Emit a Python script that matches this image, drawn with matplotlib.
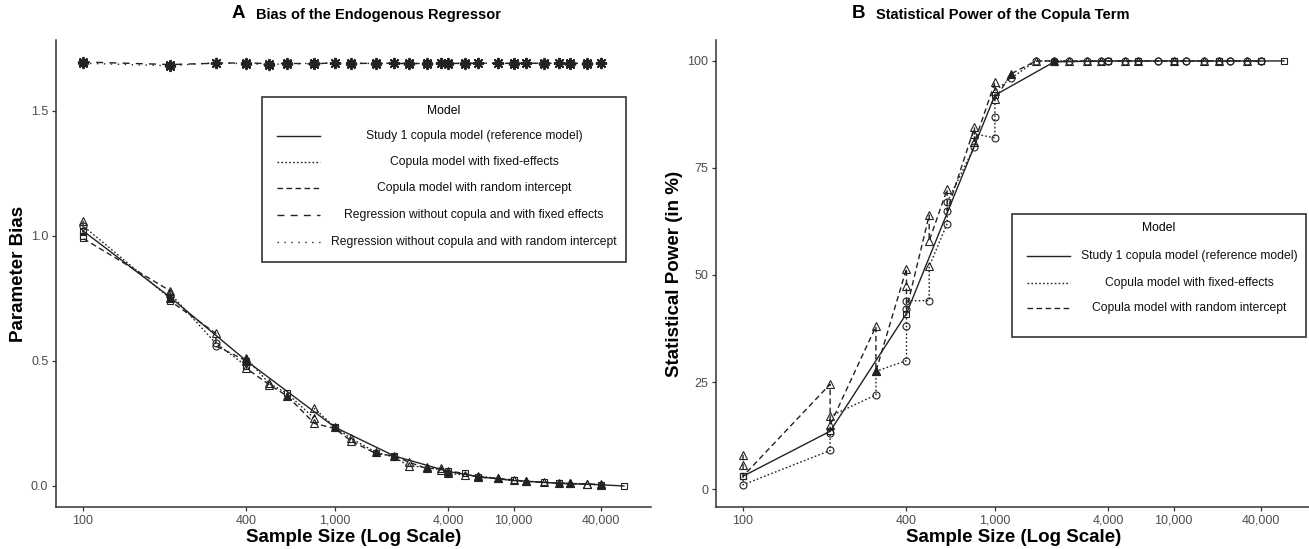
import numpy as np
import matplotlib.pyplot as plt
from matplotlib.lines import Line2D
from matplotlib.patches import Rectangle
from matplotlib.ticker import NullLocator

plt.rcParams['font.family'] = ['Liberation Sans', 'DejaVu Sans']

W, H = 1309, 549

# ---- data -------------------------------------------------------------
xticks = [100, 400, 1000, 4000, 10000, 40000]
xtick_labels = ['100', '400', '1,000', '4,000', '10,000', '40,000']

sizes_reg = [100, 200, 300, 400, 500, 600, 800, 1000, 1200, 1600, 2000, 2400, 3000,
             3600, 4000, 5000, 6000, 8000, 10000, 12000, 16000, 20000, 24000, 32000, 40000]

# panel A: bias of the endogenous regressor
bias_reg_fe = [1.695, 1.685, 1.690, 1.692, 1.688, 1.690, 1.687, 1.693, 1.689, 1.690, 1.690, 1.688,
               1.690, 1.690, 1.689, 1.690, 1.690, 1.690, 1.689, 1.690, 1.690, 1.690, 1.689, 1.690, 1.690]
bias_reg_ri = [1.690, 1.680, 1.692, 1.688, 1.685, 1.688, 1.690, 1.690, 1.691, 1.689, 1.690, 1.690,
               1.689, 1.690, 1.690, 1.689, 1.690, 1.691, 1.690, 1.690, 1.689, 1.690, 1.690, 1.689, 1.690]

sizes_ref = [100, 200, 400, 1000, 2000, 4000, 6000, 10000, 20000, 40000, 60000]
bias_ref = [1.02, 0.755, 0.50, 0.235, 0.12, 0.058, 0.037, 0.022, 0.011, 0.005, 0.0]
marks_ref = ['s'] * len(sizes_ref)

sizes_cfe_a = [100, 100, 200, 200, 300, 400, 400, 500, 600, 800, 800, 1000, 1200, 1600, 2000,
               2400, 3000, 3600, 4000, 5000, 6000, 8000, 10000, 12000, 16000, 20000, 24000,
               32000, 40000]
bias_cfe = [1.00, 1.04, 0.75, 0.77, 0.57, 0.48, 0.51, 0.41, 0.37, 0.27, 0.31, 0.235, 0.19,
            0.135, 0.115, 0.08, 0.075, 0.065, 0.05, 0.045, 0.04, 0.03, 0.022, 0.02, 0.014,
            0.012, 0.01, 0.007, 0.005]
marks_cfe_a = ['s', 'o', 'T', '^', 'o', 's', 'T', '^', 's', '^', '^', 'T', '^', 'T', 's',
               '^', '^', '^', 'T', '^', 'T', 'T', '^', 'T', 's', 'T', '^', '^', 'T']

sizes_cri_a = [100, 100, 200, 200, 300, 300, 400, 400, 500, 600, 800, 1000, 1200, 1600, 2000,
               2400, 3000, 3600, 4000, 5000, 6000, 8000, 10000, 12000, 16000, 20000, 24000,
               32000, 40000]
bias_cri = [1.06, 0.99, 0.78, 0.74, 0.61, 0.56, 0.50, 0.47, 0.405, 0.36, 0.25, 0.23, 0.18,
            0.13, 0.12, 0.095, 0.07, 0.07, 0.06, 0.05, 0.035, 0.03, 0.025, 0.018, 0.015,
            0.01, 0.01, 0.008, 0.006]
marks_cri_a = ['^', 's', '^', 's', '^', 'o', 'T', '^', '^', 'T', '^', 's', '^', 's', 'T',
               '^', 'T', '^', '^', 's', 'T', '^', 's', 'T', '^', 's', 'T', '^', 'T']

# panel B: statistical power of the copula term (in %)
power_ref = [3, 13.5, 41, 92, 99.8, 100, 100, 100, 100, 100, 100]

sizes_cri_b = [100, 100, 100, 200, 200, 300, 300, 400, 400, 400, 500, 500, 600, 600, 800, 800,
               1000, 1000, 1200, 1600, 2000, 2400, 3000, 3600, 4000, 5000, 6000, 8000, 10000,
               12000, 16000, 20000, 24000, 32000, 40000]
power_cri = [8, 5.5, 3, 24.5, 15, 38, 27.5, 51.5, 47.5, 42, 64, 58, 70, 65, 84.5, 81, 95, 91,
             97, 100, 100, 100, 100, 100, 100, 100, 100, 100, 100, 100, 100, 100, 100, 100, 100]
marks_cri_b = ['^', '^', 's', '^', '^', '^', 'T', '^', '^', 'o', '^', '^', '^', 'o', '^', '^',
               '^', '^', 'T', '^', 'T', '^', '^', '^', 'o', '^', '^', 'o', '^', 'o', '^', '^',
               'o', '^', 'o']

sizes_cfe_b = [100, 100, 200, 200, 200, 300, 300, 400, 400, 400, 500, 500, 600, 600, 800, 800,
               1000, 1000, 1000, 1200, 1600, 2000, 2400, 3000, 3600, 4000, 5000, 6000, 8000,
               10000, 12000, 16000, 20000, 24000, 32000, 40000]
power_cfe = [3, 1, 9, 13, 17, 22, 27.5, 30, 38, 44, 44, 52, 62, 67, 80, 83, 82, 87, 93, 96,
             100, 100, 100, 100, 100, 100, 100, 100, 100, 100, 100, 100, 100, 100, 100, 100]
marks_cfe_b = ['s', 'o', 'o', 'o', '^', 'o', '^', 'o', 'o', 'o', 'o', '^', 'o', 'o', 'o', '^',
               'o', 'o', '^', 'o', 'o', 'o', 'o', 'o', 'o', 'o', 'o', 'o', 'o', 'o', 'o', 'o',
               'o', 'o', 'o', 'o']

labels_a = ['Study 1 copula model (reference model)', 'Copula model with fixed-effects',
            'Copula model with random intercept', 'Regression without copula and with fixed effects',
            'Regression without copula and with random intercept']
labels_b = labels_a[:3]

# ---- styles -----------------------------------------------------------
INK = '#222222'
ls_ref = '-'
ls_cfe = (0, (1.2, 1.6))
ls_cri = (0, (4, 2.5))
ls_rfe = (0, (5, 4.5))
ls_rri = (0, (1, 4))

MARKERS = {
    '^': dict(marker='^', mfc='none', ms=5.5),
    'T': dict(marker='^', mfc=INK, ms=5.5),
    'o': dict(marker='o', mfc='none', ms=5),
    's': dict(marker='s', mfc='none', ms=5),
    '*': dict(marker=(8, 2, 0), mfc=INK, ms=8),
}


def loglog_fwd(x):
    x = np.clip(np.asarray(x, dtype=float), 1.0001, None)
    return np.log(np.log(x))


def loglog_inv(t):
    return np.exp(np.exp(t))


def series(ax, x, y, ls, marks):
    x = np.asarray(x)
    y = np.asarray(y)
    ax.plot(x, y, ls=ls, color=INK, lw=1.0, zorder=2)
    marks = np.asarray(marks)
    for m in np.unique(marks):
        sel = marks == m
        mew = 1.3 if m == '*' else 0.8
        ax.plot(x[sel], y[sel], ls='none', mec=INK, mew=mew, color=INK, zorder=3, **MARKERS[m])


def style_axes(ax):
    ax.set_xscale('function', functions=(loglog_fwd, loglog_inv))
    t0, t1 = loglog_fwd(100), loglog_fwd(60000)
    pad = 0.05 * (t1 - t0)
    ax.set_xlim(loglog_inv(t0 - pad), loglog_inv(t1 + pad))
    ax.set_xticks(xticks)
    ax.set_xticklabels(xtick_labels)
    ax.xaxis.set_minor_locator(NullLocator())
    for s in ['top', 'right']:
        ax.spines[s].set_visible(False)
    for s in ['left', 'bottom']:
        ax.spines[s].set_color('#333333')
        ax.spines[s].set_linewidth(1.1)
    ax.tick_params(length=3, width=0.9, color='#333333', labelsize=9,
                   labelcolor='#4d4d4d', pad=2.5)
    ax.set_xlabel('Sample Size (Log Scale)', fontsize=13.5, fontweight='bold', labelpad=2)


def fx(px):
    return px / W


def fy(py):
    return 1 - py / H


def draw_legend(fig, box, title_y, rows, labels, styles):
    x0, y0, x1, y1 = box
    fig.add_artist(Rectangle((fx(x0), fy(y1)), fx(x1) - fx(x0), fy(y0) - fy(y1),
                             transform=fig.transFigure, fill=False, ec='#333333', lw=1.2))
    fig.text(fx((x0 + x1) / 2), fy(title_y), 'Model', ha='center', va='center', fontsize=8.7)
    text_c = (x0 + 68 + x1 - 8) / 2
    for y, lab, ls in zip(rows, labels, styles):
        fig.add_artist(Line2D([fx(x0 + 15), fx(x0 + 58)], [fy(y), fy(y)],
                              transform=fig.transFigure, ls=ls, color=INK, lw=1.0))
        fig.text(fx(text_c), fy(y), lab, ha='center', va='center', fontsize=8.7, color='#111111')


fig = plt.figure(figsize=(W / 100, H / 100), dpi=100)
ax1 = fig.add_axes([56 / W, 42 / H, 595 / W, 467 / H])
ax2 = fig.add_axes([716 / W, 42 / H, 595 / W, 467 / H])

# panel A
series(ax1, sizes_reg, bias_reg_fe, ls_rfe, ['*'] * len(sizes_reg))
series(ax1, sizes_reg, bias_reg_ri, ls_rri, ['*'] * len(sizes_reg))
series(ax1, sizes_cri_a, bias_cri, ls_cri, marks_cri_a)
series(ax1, sizes_cfe_a, bias_cfe, ls_cfe, marks_cfe_a)
series(ax1, sizes_ref, bias_ref, ls_ref, marks_ref)
style_axes(ax1)
ax1.set_ylim(-0.084, 1.783)
ax1.set_yticks([0.0, 0.5, 1.0, 1.5])
ax1.set_yticklabels(['0.0', '0.5', '1.0', '1.5'])
ax1.set_ylabel('Parameter Bias', fontsize=13.5, fontweight='bold', labelpad=3)

# panel B
series(ax2, sizes_cri_b, power_cri, ls_cri, marks_cri_b)
series(ax2, sizes_cfe_b, power_cfe, ls_cfe, marks_cfe_b)
series(ax2, sizes_ref, power_ref, ls_ref, marks_ref)
style_axes(ax2)
ax2.set_ylim(-4.2, 104.9)
ax2.set_yticks([0, 25, 50, 75, 100])
ax2.set_ylabel('Statistical Power (in %)', fontsize=13.5, fontweight='bold', labelpad=3)

# titles
fig.text(fx(232), fy(14), 'A', fontsize=13.5, fontweight='bold', va='center', ha='left')
fig.text(fx(256), fy(15), 'Bias of the Endogenous Regressor', fontsize=10.5,
         fontweight='bold', va='center', ha='left')
fig.text(fx(852), fy(14), 'B', fontsize=13.5, fontweight='bold', va='center', ha='left')
fig.text(fx(876), fy(15), 'Statistical Power of the Copula Term', fontsize=10.5,
         fontweight='bold', va='center', ha='left')

# legends
draw_legend(fig, (262, 97, 626, 262), 111, [136, 162, 188, 215, 242], labels_a,
            [ls_ref, ls_cfe, ls_cri, ls_rfe, ls_rri])
draw_legend(fig, (1012, 214, 1306, 337), 228, [256, 283, 308], labels_b,
            [ls_ref, ls_cfe, ls_cri])

fig.savefig('out.png', dpi=100)
